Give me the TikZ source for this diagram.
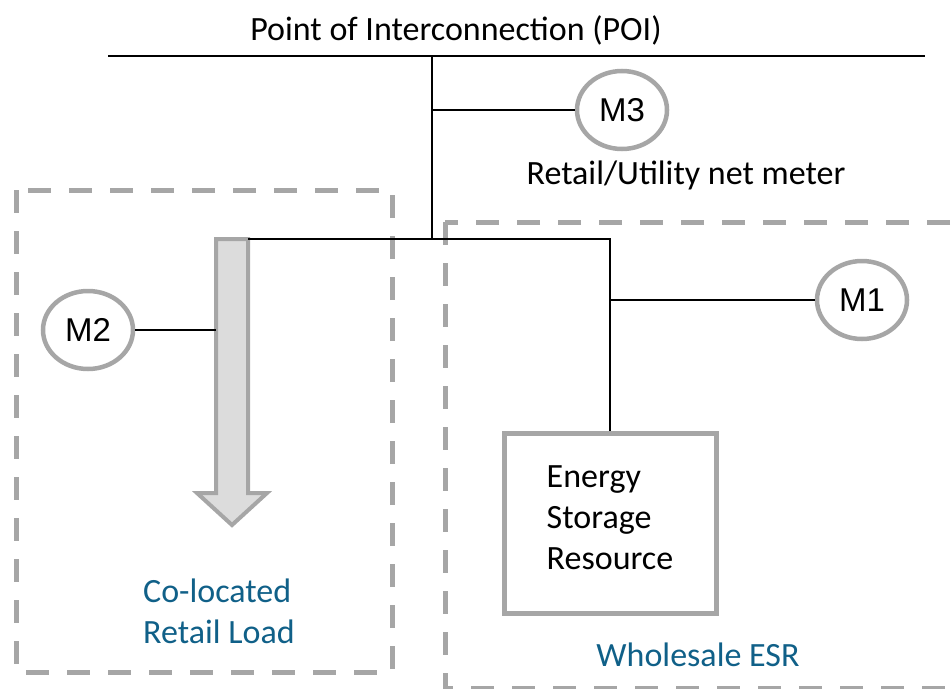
\documentclass[tikz,border=0pt]{standalone}
\usepackage{fontspec}
\setmainfont{Carlito}
\newfontfamily\meterfont{Liberation Sans}
\usetikzlibrary{shapes.geometric}

\definecolor{framegray}{RGB}{166,166,166}
\definecolor{loadfill}{RGB}{220,220,220}
\definecolor{zonetext}{RGB}{16,96,136}

\tikzset{
  meter/.style={ellipse, draw=framegray, line width=4.5pt, fill=white,
    minimum width=90pt, minimum height=78pt, inner sep=0pt,
    font=\meterfont\fontsize{33}{33}\selectfont},
  zone/.style={draw=framegray, line width=5pt, dash pattern=on 23pt off 18pt},
  wire/.style={line width=1.4pt, black},
  caption/.style={font=\fontsize{34}{41}\selectfont, inner sep=0pt},
}

\begin{document}
\begin{tikzpicture}[x=1pt,y=-1pt]
    \useasboundingbox (0,0) rectangle (952,688);
    \clip (0,0) rectangle (952,688);
    \def\trunk{432}   % x of the main feeder
    \def\bus{239}     % y of the site bus

    % Dashed zones
    \draw[zone] (16,190) rectangle (392,672);
    \draw[zone] (445,222) rectangle (990,688);

    % Point of interconnection
    \node[caption] (poi) at (456,30) {Point of Interconnection (POI)};
    \coordinate (poiL) at (108,56);
    \coordinate (poiR) at (925,56);
    \draw[wire] (poiL) -- (poiR);

    % Feeder down to the site bus
    \coordinate (poiJ) at (\trunk,56);
    \coordinate (busJ) at (\trunk,\bus);
    \draw[wire] (poiJ) -- (busJ);

    % Net meter M3
    \node[meter] (m3) at (622,110) {M3};
    \node[caption] (m3txt) at (686,175) {Retail/Utility net meter};
    \coordinate (m3tap) at (\trunk,110);
    \draw[wire] (m3tap) -- (m3.west);

    % Co-located load (big arrow)
    \coordinate (loadtop) at (232,\bus);
    \filldraw[draw=framegray, fill=loadfill, line width=4pt]
        (216,\bus) -- (248,\bus) -- (248,493) -- (267,493)
        -- (232,525) -- (197,493) -- (216,493) -- cycle;
    \node[caption, text=zonetext, align=left, anchor=west] (loadtxt)
        at (143,611) {Co-located\\Retail Load};

    % Meter M2
    \node[meter] (m2) at (88,330) {M2};
    \coordinate (m2tap) at (216,330);
    \draw[wire] (m2.east) -- (m2tap);

    % Energy storage resource
    \node[draw=framegray, line width=5pt, minimum width=212pt,
        minimum height=180pt, align=left, caption, text depth=10pt] (esr)
        at (610,523) {Energy\\Storage\\Resource};
    \draw[wire] (248,\bus) -| (esr.north);
    \node[caption, text=zonetext] (esrtxt) at (698,655) {Wholesale ESR};

    % Meter M1
    \node[meter] (m1) at (862,300) {M1};
    \coordinate (m1tap) at (esr.north |- m1);
    \draw[wire] (m1tap) -- (m1.west);
\end{tikzpicture}
\end{document}
